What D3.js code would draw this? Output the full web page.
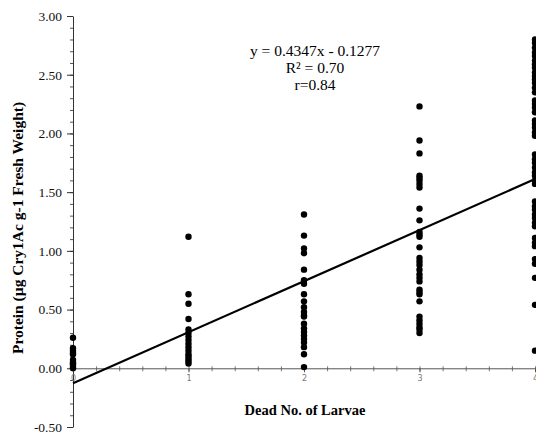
<!DOCTYPE html>
<html>
<head>
<meta charset="utf-8">
<script src="https://cdn.jsdelivr.net/npm/d3@7"></script>
<style>
  body { margin: 0; background: #fff; }
  svg { display: block; font-family: "Liberation Serif", "Times New Roman", serif; }
</style>
</head>
<body>
<div id="chart"></div>
<script>
// Protein values, one list per larvae count
const deadLarvae = [0, 1, 2, 3, 4];
const protein0 = [0.26, 0.17, 0.15, 0.13, 0.12, 0.07, 0.05, 0.04, 0.03, 0.01, 0.00];
const protein1 = [1.12, 0.63, 0.55, 0.42, 0.33, 0.30, 0.27, 0.24, 0.21, 0.18, 0.15, 0.12, 0.10, 0.08, 0.06, 0.04];
const protein2 = [1.31, 1.13, 1.02, 0.98, 0.84, 0.75, 0.72, 0.63, 0.57, 0.52, 0.48, 0.45, 0.44, 0.38, 0.34, 0.31, 0.28, 0.25, 0.22, 0.18, 0.12, 0.01];
const protein3 = [2.23, 1.94, 1.83, 1.64, 1.62, 1.60, 1.57, 1.54, 1.36, 1.26, 1.16, 1.14, 1.12, 1.03, 0.94, 0.91, 0.88, 0.84, 0.80, 0.77, 0.74, 0.67, 0.65, 0.63, 0.57, 0.44, 0.41, 0.38, 0.35, 0.33, 0.30];
const protein4 = [2.80, 2.77, 2.73, 2.69, 2.66, 2.62, 2.59, 2.56, 2.52, 2.49, 2.46, 2.43, 2.39, 2.35, 2.28, 2.25, 2.22, 2.18, 2.11, 2.08, 2.05, 2.01, 1.98, 1.82, 1.78, 1.75, 1.71, 1.67, 1.64, 1.60, 1.57, 1.42, 1.38, 1.35, 1.31, 1.28, 1.24, 1.21, 1.11, 1.07, 1.04, 0.93, 0.89, 0.77, 0.54, 0.15];
const yTicks = [-0.5, 0, 0.5, 1, 1.5, 2, 2.5, 3];
const slope = 0.4347, intercept = -0.1277;
const fitText = ["y = 0.4347x - 0.1277", "R² = 0.70", "r=0.84"];

const width = 536, height = 434;

const svg = d3.select("#chart").append("svg")
  .attr("width", width)
  .attr("height", height);

const x = d3.scaleLinear().domain([0, 4]).range([73, 535]);
const y = d3.scaleLinear().domain([-0.5, 3]).range([427, 16]);

// y axis: major ticks outside, minor every 0.1
svg.append("g")
  .attr("transform", `translate(${x(0)},0)`)
  .call(d3.axisLeft(y).tickValues(d3.range(-0.5, 3.001, 0.1)).tickSize(3).tickFormat(""))
  .call(g => g.select(".domain").remove())
  .selectAll("line").attr("stroke", "#555");

svg.append("g")
  .attr("transform", `translate(${x(0)},0)`)
  .call(d3.axisLeft(y).tickValues(yTicks).tickSize(6).tickSizeOuter(0).tickPadding(5).tickFormat(d3.format(".2f")))
  .call(g => g.select(".domain").attr("stroke", "#333"))
  .call(g => g.selectAll("line").attr("stroke", "#333"))
  .call(g => g.selectAll("text")
    .attr("font-family", "Liberation Serif")
    .attr("font-size", 13.5)
    .attr("fill", "#111")
    .text(d => d < 0 ? "-" + d3.format(".2f")(-d) : d3.format(".2f")(d)));

// x axis at y = 0
svg.append("g")
  .attr("transform", `translate(0,${y(0)})`)
  .call(d3.axisBottom(x).tickValues(d3.range(0, 4.001, 0.2)).tickSize(3).tickFormat(""))
  .call(g => g.select(".domain").remove())
  .selectAll("line").attr("stroke", "#777").attr("y1", -2);

svg.append("g")
  .attr("transform", `translate(0,${y(0)})`)
  .call(d3.axisBottom(x).tickValues(deadLarvae).tickSize(4).tickSizeOuter(0).tickPadding(3).tickFormat(d3.format("d")))
  .call(g => g.select(".domain").attr("stroke", "#555"))
  .call(g => g.selectAll("line").attr("stroke", "#555"))
  .call(g => g.selectAll("text")
    .attr("font-family", "DejaVu Sans")
    .attr("font-size", 8)
    .attr("fill", "#777"));

// regression line
svg.append("line")
  .attr("x1", x(0)).attr("y1", y(intercept))
  .attr("x2", x(4)).attr("y2", y(slope * 4 + intercept))
  .attr("stroke", "#000")
  .attr("stroke-width", 2.2);

// points
const groups = [protein0, protein1, protein2, protein3, protein4];
const points = groups.flatMap((vals, i) => vals.map(v => ({ x: deadLarvae[i], y: v })));

svg.append("g")
  .selectAll("circle")
  .data(points)
  .join("circle")
  .attr("cx", d => x(d.x))
  .attr("cy", d => y(d.y))
  .attr("r", 3.2)
  .attr("fill", "#000");

// equation
svg.append("text")
  .attr("text-anchor", "middle")
  .attr("font-size", 15.5)
  .selectAll("tspan")
  .data(fitText)
  .join("tspan")
  .attr("x", 315)
  .attr("y", (d, i) => 56 + i * 17)
  .text(d => d);

// axis titles
svg.append("text")
  .attr("transform", `translate(23,${228}) rotate(-90)`)
  .attr("text-anchor", "middle")
  .attr("font-size", 15.5)
  .attr("font-weight", "bold")
  .text("Protein (µg Cry1Ac g-1 Fresh Weight)");

svg.append("text")
  .attr("x", 305)
  .attr("y", 415)
  .attr("text-anchor", "middle")
  .attr("font-size", 14.5)
  .attr("font-weight", "bold")
  .text("Dead No. of Larvae");
</script>
</body>
</html>
